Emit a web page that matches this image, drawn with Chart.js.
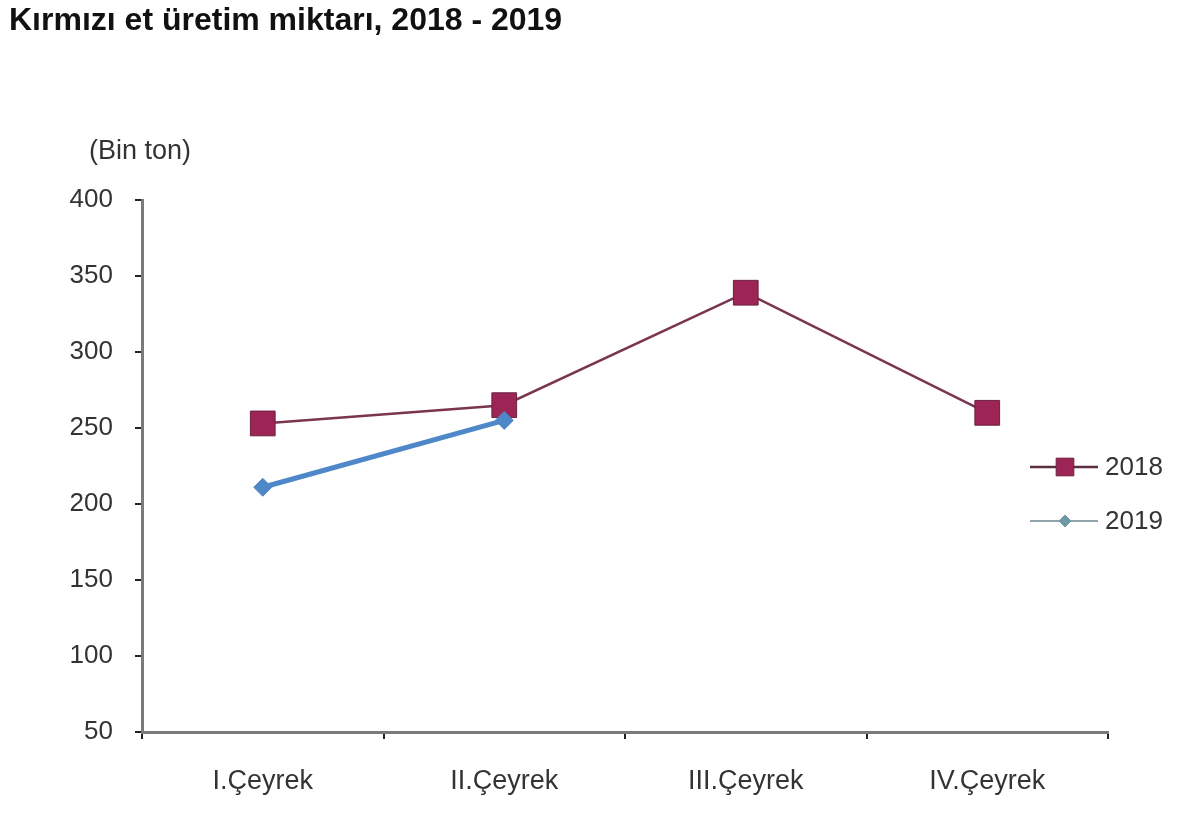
<!DOCTYPE html>
<html>
<head>
<meta charset="utf-8">
<script src="https://cdn.jsdelivr.net/npm/chart.js@4/dist/chart.umd.min.js"></script>
<style>
  html, body { margin: 0; padding: 0; background: #fff; }
  #wrap { width: 1200px; height: 836px; position: relative; }
  canvas { display: block; }
</style>
</head>
<body>
<div id="wrap"><canvas id="c" width="1200" height="836"></canvas></div>
<script>
const titleText = "Kırmızı et üretim miktarı, 2018 - 2019";
const unitLabel = "(Bin ton)";
const categories = ["I.Çeyrek", "II.Çeyrek", "III.Çeyrek", "IV.Çeyrek"];
const series2018 = [253, 265, 339, 260];
const series2019 = [211, 255, null, null];
const seriesNames = ["2018", "2019"];
const yMin = 50, yMax = 400, yStep = 50;

const FONT = "'Liberation Sans', Arial, sans-serif";

const overlayPlugin = {
  id: 'overlay',
  afterDraw(chart) {
    const ctx = chart.ctx;
    ctx.save();
    // Title
    ctx.fillStyle = '#111';
    ctx.font = "bold 32px " + FONT;
    ctx.textAlign = 'left';
    ctx.textBaseline = 'middle';
    ctx.fillText(titleText, 9, 21);
    // Unit label
    ctx.fillStyle = '#333';
    ctx.font = "27px " + FONT;
    ctx.textAlign = 'center';
    ctx.fillText(unitLabel, 140, 152);
    // Legend
    const items = [
      { name: seriesNames[0], y: 467, line: '#5a3040', lw: 2.5, style: 'rect', r: 12.5, fill: '#9c2556', stroke: '#6b2140' },
      { name: seriesNames[1], y: 521, line: '#6d8890', lw: 1.5, style: 'rectRot', r: 6, fill: '#6f98a6', stroke: '#6f98a6' }
    ];
    items.forEach(it => {
      ctx.strokeStyle = it.line;
      ctx.lineWidth = it.lw;
      ctx.beginPath();
      ctx.moveTo(1030, it.y);
      ctx.lineTo(1098, it.y);
      ctx.stroke();
      ctx.fillStyle = it.fill;
      ctx.strokeStyle = it.stroke;
      ctx.lineWidth = 1;
      Chart.helpers.drawPoint(ctx, { pointStyle: it.style, radius: it.r, borderWidth: 1 }, 1065, it.y);
      ctx.fillStyle = '#333';
      ctx.font = "26px " + FONT;
      ctx.textAlign = 'left';
      ctx.textBaseline = 'middle';
      ctx.fillText(it.name, 1105, it.y + 1);
    });
    ctx.restore();
  }
};

new Chart(document.getElementById('c'), {
  type: 'line',
  data: {
    labels: categories,
    datasets: [
      {
        label: seriesNames[0],
        data: series2018,
        borderColor: '#7a3550',
        borderWidth: 2.5,
        pointStyle: 'rect',
        pointRadius: 17.5,
        pointBackgroundColor: '#9c2556',
        pointBorderColor: '#6b2140',
        pointBorderWidth: 1,
        tension: 0,
        order: 2
      },
      {
        label: seriesNames[1],
        data: series2019,
        borderColor: '#4f88c8',
        borderWidth: 5,
        pointStyle: 'rectRot',
        pointRadius: 9,
        pointBackgroundColor: '#4f88c8',
        pointBorderColor: '#4f88c8',
        pointBorderWidth: 1,
        tension: 0,
        spanGaps: false,
        order: 1
      }
    ]
  },
  options: {
    responsive: false,
    animation: false,
    devicePixelRatio: 1,
    layout: { padding: { top: 200, right: 92, bottom: 24, left: 0 } },
    plugins: {
      legend: { display: false },
      title: { display: false },
      tooltip: { enabled: false }
    },
    scales: {
      x: {
        offset: true,
        grid: {
          offset: true,
          drawOnChartArea: false,
          drawTicks: true,
          tickLength: 7,
          color: '#222',
          lineWidth: 2
        },
        border: { display: true, color: '#7a7a7a', width: 3 },
        ticks: {
          color: '#333',
          font: { family: FONT, size: 27 },
          padding: 26,
          maxRotation: 0
        },
        afterFit(scale) { scale.height = 80; }
      },
      y: {
        min: yMin,
        max: yMax,
        grid: {
          drawOnChartArea: false,
          drawTicks: true,
          tickLength: 7,
          color: '#222',
          lineWidth: 2
        },
        border: { display: true, color: '#7a7a7a', width: 3 },
        ticks: {
          stepSize: yStep,
          color: '#333',
          font: { family: FONT, size: 26 },
          padding: 22
        },
        afterFit(scale) { scale.width = 142; }
      }
    }
  },
  plugins: [overlayPlugin]
});
</script>
</body>
</html>
